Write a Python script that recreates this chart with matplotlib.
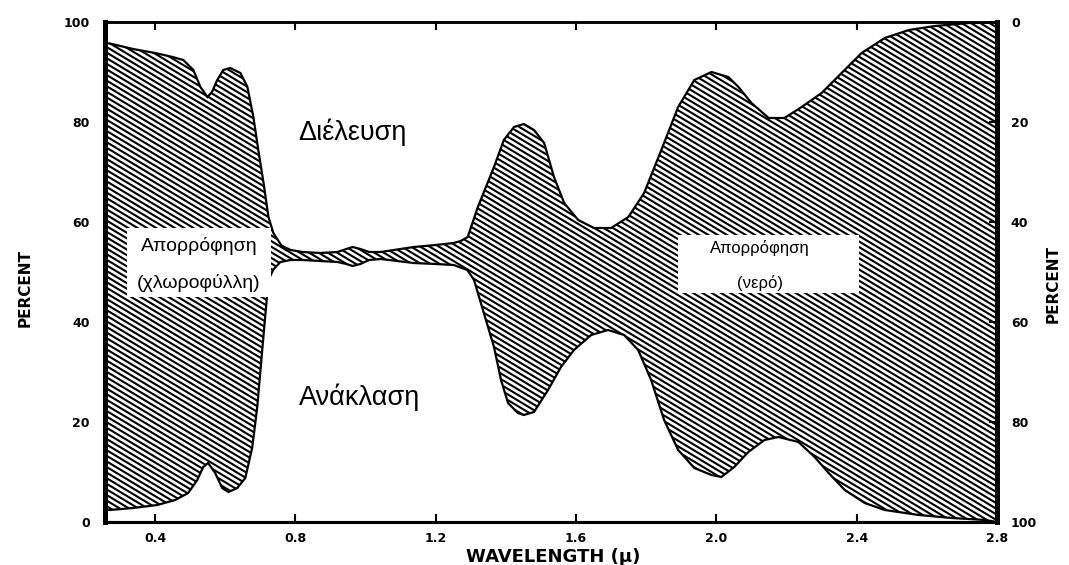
import numpy as np
import matplotlib.pyplot as plt
from matplotlib.patches import Rectangle
from matplotlib.collections import LineCollection

# Upper edge of the absorption band (100 - transmittance), percent on the left scale
upper_wl = [0.257, 0.271, 0.337, 0.40, 0.45, 0.48, 0.509, 0.529, 0.549, 0.562, 0.577,
            0.594, 0.614, 0.643, 0.663, 0.68, 0.694, 0.709, 0.723, 0.737, 0.76, 0.786,
            0.82, 0.87, 0.92, 0.945, 0.963, 0.985, 1.01, 1.043, 1.09, 1.137, 1.2, 1.251,
            1.271, 1.291, 1.32, 1.366, 1.394, 1.423, 1.451, 1.48, 1.509, 1.537, 1.566,
            1.606, 1.651, 1.70, 1.749, 1.794, 1.843, 1.891, 1.937, 1.986, 2.034, 2.063,
            2.10, 2.149, 2.194, 2.243, 2.30, 2.357, 2.414, 2.48, 2.549, 2.623, 2.72, 2.80]
upper_pct = [95.8, 95.7, 94.6, 93.8, 93.0, 92.4, 90.4, 87.0, 85.0, 86.0, 88.4,
             90.4, 90.8, 89.8, 87.0, 81.0, 74.4, 67.8, 61.0, 57.8, 55.3, 54.4,
             54.0, 53.8, 54.0, 54.6, 55.0, 54.6, 54.0, 54.0, 54.5, 55.0, 55.4, 55.8,
             56.2, 57.0, 63.0, 71.0, 76.4, 79.0, 79.6, 78.4, 75.8, 69.0, 63.8,
             60.4, 58.8, 58.8, 61.0, 65.8, 74.4, 83.0, 88.4, 90.0, 89.0, 87.0,
             83.8, 80.8, 80.8, 83.0, 85.8, 89.8, 93.8, 96.8, 98.4, 99.2, 99.8, 100.0]

# Lower edge of the band (reflectance), percent on the left scale
lower_wl = [0.257, 0.271, 0.337, 0.406, 0.457, 0.494, 0.52, 0.537, 0.551, 0.571, 0.591,
            0.609, 0.634, 0.657, 0.677, 0.691, 0.706, 0.723, 0.737, 0.757, 0.786, 0.82,
            0.87, 0.92, 0.945, 0.963, 0.985, 1.01, 1.043, 1.09, 1.137, 1.2, 1.251, 1.29,
            1.309, 1.337, 1.366, 1.386, 1.406, 1.434, 1.451, 1.48, 1.52, 1.557, 1.594,
            1.643, 1.691, 1.737, 1.777, 1.814, 1.851, 1.891, 1.937, 1.986, 2.014, 2.051,
            2.091, 2.137, 2.177, 2.234, 2.28, 2.32, 2.366, 2.423, 2.48, 2.577, 2.671,
            2.766, 2.80]
lower_pct = [2.4, 2.4, 2.8, 3.4, 4.4, 5.8, 8.4, 11.0, 11.8, 9.8, 6.8,
             6.0, 6.8, 8.8, 15.0, 23.0, 35.0, 48.4, 50.5, 52.0, 52.4, 52.4,
             52.2, 52.0, 51.6, 51.2, 51.6, 52.4, 52.6, 52.2, 51.8, 51.6, 51.4, 50.4,
             48.4, 41.8, 35.0, 28.4, 23.8, 21.8, 21.4, 22.0, 26.4, 31.0, 34.4,
             37.4, 38.4, 37.4, 34.4, 28.4, 20.4, 14.4, 10.8, 9.4, 9.0, 11.0,
             14.0, 16.4, 17.0, 16.0, 13.0, 9.8, 6.4, 3.8, 2.4, 1.4, 0.8,
             0.4, 0.0]

x_ticks = [0.4, 0.8, 1.2, 1.6, 2.0, 2.4, 2.8]
x_tick_labels = ['0.4', '0.8', '1.2', '1.6', '2.0', '2.4', '2.8']
y_ticks = [0, 20, 40, 60, 80, 100]

plt.rcParams['font.family'] = ['Liberation Sans', 'DejaVu Sans']

fig = plt.figure(figsize=(10.69, 5.65), dpi=100)
ax = fig.add_axes([105 / 1069, 1 - 522 / 565, 892 / 1069, 500 / 565])

# absorption band (outline)
poly_x = upper_wl + lower_wl[::-1]
poly_y = upper_pct + lower_pct[::-1]
band = ax.fill(poly_x, poly_y, facecolor='white', edgecolor='black',
               linewidth=1.6, zorder=2)[0]

# diagonal hatching clipped to the band (shallow angle like the scan)
slope = np.tan(np.radians(31)) * 892 / 500
offsets = np.arange(0, 1 + slope, 5.6 / 500)
segs = [[(0, c), (1, c - slope)] for c in offsets]
hatch = LineCollection(segs, colors='black', linewidths=1.5,
                       transform=ax.transAxes, zorder=2.5)
hatch.set_clip_path(band)
ax.add_collection(hatch, autolim=False)

ax.set_xlim(0.257, 2.8)
ax.set_ylim(0, 100)

# labels on the chart
ax.text(0.963, 78, 'Διέλευση', fontsize=19.5, ha='center', va='center')
ax.text(0.983, 25, 'Ανάκλαση', fontsize=19.5, ha='center', va='center')

ax.add_patch(Rectangle((0.32, 45), 0.409, 13.8, facecolor='white',
                       edgecolor='none', zorder=4))
ax.text(0.525, 55.2, 'Απορρόφηση', fontsize=14, ha='center', va='center', zorder=5)
ax.text(0.525, 47.8, '(χλωροφύλλη)', fontsize=14, ha='center', va='center', zorder=5)

ax.add_patch(Rectangle((1.891, 45.8), 0.515, 11.6, facecolor='white',
                       edgecolor='none', zorder=4))
ax.text(2.123, 54.8, 'Απορρόφηση', fontsize=12, ha='center', va='center', zorder=5)
ax.text(2.123, 47.8, '(νερό)', fontsize=12, ha='center', va='center', zorder=5)

# axes styling
ax.set_xticks(x_ticks)
ax.set_xticklabels(x_tick_labels, fontfamily='DejaVu Sans', fontweight='bold', fontsize=9)
ax.set_yticks(y_ticks)
ax.set_yticklabels([str(v) for v in y_ticks], fontfamily='DejaVu Sans',
                   fontweight='bold', fontsize=9)
ax.tick_params(axis='x', direction='in', top=True, length=6, width=1.5, pad=7)
ax.tick_params(axis='y', direction='in', length=6, width=1.5, pad=11)
ax.set_xlabel('WAVELENGTH (µ)', fontfamily='DejaVu Sans', fontweight='bold', fontsize=13)
ax.xaxis.set_label_coords(0.503, -0.052)
ax.set_ylabel('PERCENT', fontfamily='DejaVu Sans', fontweight='bold', fontsize=11)
ax.yaxis.set_label_coords(-0.081, 0.468)

ax2 = ax.twinx()
ax2.set_ylim(100, 0)
ax2.set_yticks(y_ticks)
ax2.set_yticklabels([str(v) for v in y_ticks], fontfamily='DejaVu Sans',
                    fontweight='bold', fontsize=9)
ax2.tick_params(axis='y', direction='in', length=6, width=1.5, pad=10)
ax2.set_ylabel('PERCENT', fontfamily='DejaVu Sans', fontweight='bold', fontsize=11,
               rotation=90)
ax2.yaxis.set_label_coords(1.055, 0.476)

for a in (ax, ax2):
    a.spines['left'].set_linewidth(3.5)
    a.spines['right'].set_linewidth(3.5)
    a.spines['top'].set_linewidth(1.8)
    a.spines['bottom'].set_linewidth(2.2)

fig.savefig('out.png', dpi=100)
plt.close()
